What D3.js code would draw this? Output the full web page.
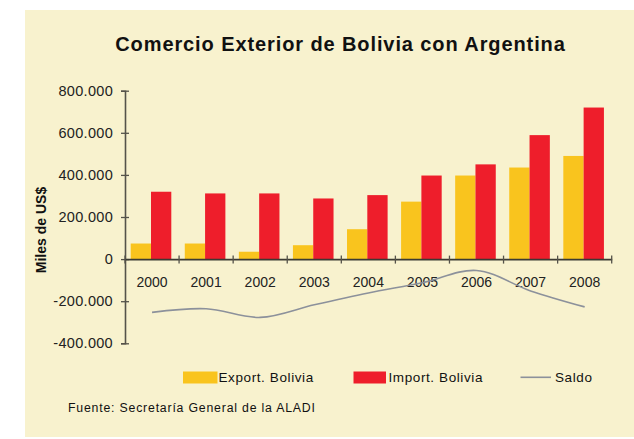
<!DOCTYPE html>
<html><head><meta charset="utf-8">
<script src="https://cdn.jsdelivr.net/npm/d3@7"></script>
<style>body{margin:0;background:#fff}svg{display:block}text{font-family:"Liberation Sans",Arial,sans-serif}</style>
</head><body><svg id="c" width="634" height="439"></svg>
<script>
const years = ["2000","2001","2002","2003","2004","2005","2006","2007","2008"];
const exportBolivia = [74000, 74000, 35000, 66000, 142000, 273000, 397000, 435000, 490000];
const importBolivia = [320000, 312000, 312000, 288000, 304000, 397000, 450000, 589000, 720000];
const saldo = [-253000, -236000, -277000, -217000, -161000, -112000, -54000, -151000, -227000];
const yTicks = [-400000, -200000, 0, 200000, 400000, 600000, 800000];
const seriesNames = ["Export. Bolivia", "Import. Bolivia", "Saldo"];
const colors = {exp: "#F9C41E", imp: "#EE1E2B", saldo: "#8C919B"};

const svg = d3.select("#c");
svg.append("rect").attr("x",25).attr("y",10).attr("width",609).attr("height",427).attr("fill","#F8F2CE");

svg.append("text").attr("x",340.5).attr("y",51).attr("text-anchor","middle")
  .attr("font-size",20).attr("font-weight","bold").attr("letter-spacing",0.9).attr("fill","#111").text("Comercio Exterior de Bolivia con Argentina");

const x = d3.scaleBand().domain(years).range([125, 611.7]).padding(0);
const xs = d3.scaleBand().domain(["exp","imp"]).range([5.7, 46.3]).padding(0);
const y = d3.scaleLinear().domain([-400000, 800000]).range([343.3, 90.7]);

const loc = d3.formatLocale({decimal:",", thousands:".", grouping:[3], currency:["$",""], minus:"-"});
const fmt = loc.format(",");

const g = svg.append("g");
g.selectAll(".be").data(years).join("rect")
  .attr("x", d => x(d) + xs("exp")).attr("width", xs.bandwidth())
  .attr("y", (d,i) => y(exportBolivia[i])).attr("height", (d,i) => y(0) - y(exportBolivia[i]))
  .attr("fill", colors.exp);
g.selectAll(".bi").data(years).join("rect")
  .attr("x", d => x(d) + xs("imp")).attr("width", xs.bandwidth())
  .attr("y", (d,i) => y(importBolivia[i])).attr("height", (d,i) => y(0) - y(importBolivia[i]))
  .attr("fill", colors.imp);

// y axis
const ya = svg.append("g").attr("transform","translate(125,0)")
  .call(d3.axisLeft(y).tickValues(yTicks).tickFormat(fmt).tickSize(4).tickPadding(8));
ya.select(".domain").attr("stroke","#55534a").attr("stroke-width",1.6);
ya.selectAll(".tick line").attr("stroke","#55534a").attr("stroke-width",1.3).attr("x1",4).attr("x2",-4);
ya.selectAll(".tick text").attr("font-size",14.5).attr("letter-spacing",0.3).attr("fill","#222").attr("font-family","Liberation Sans, Arial, sans-serif");

// x axis at zero
const xa = svg.append("g").attr("transform",`translate(0,${y(0)})`)
  .call(d3.axisBottom(x).tickSize(0).tickPadding(18));
xa.select(".domain").attr("stroke","#3b3a33").attr("stroke-width",1.8);
xa.selectAll(".tick text").attr("font-size",14).attr("fill","#222").attr("font-family","Liberation Sans, Arial, sans-serif");
const bounds = years.map(d => x(d)).concat([x.range()[1]]);
xa.selectAll(".xt").data(bounds).join("line")
  .attr("x1", d => d).attr("x2", d => d).attr("y1",-3.5).attr("y2",4.5)
  .attr("stroke","#55534a").attr("stroke-width",1.3);

// saldo line
const line = d3.line().x((d,i) => x(years[i]) + x.bandwidth()/2).y(d => y(d)).curve(d3.curveCatmullRom.alpha(0.5));
svg.append("path").datum(saldo).attr("d", line).attr("fill","none").attr("stroke",colors.saldo).attr("stroke-width",1.6);

// y title
svg.append("text").attr("transform","translate(45.5,230) rotate(-90)").attr("text-anchor","middle")
  .attr("font-size",14).attr("font-weight","bold").attr("fill","#111").text("Miles de US$");

// legend
const lg = svg.append("g");
lg.append("rect").attr("x",183).attr("y",371.5).attr("width",34.5).attr("height",12).attr("fill",colors.exp);
lg.append("text").attr("x",218.5).attr("y",381.5).attr("font-size",13.5).attr("letter-spacing",0.6).attr("fill","#111").text(seriesNames[0]);
lg.append("rect").attr("x",353.5).attr("y",371.5).attr("width",32.5).attr("height",12).attr("fill",colors.imp);
lg.append("text").attr("x",388.5).attr("y",381.5).attr("font-size",13.5).attr("letter-spacing",0.6).attr("fill","#111").text(seriesNames[1]);
lg.append("line").attr("x1",520.5).attr("x2",551).attr("y1",377.3).attr("y2",377.3).attr("stroke",colors.saldo).attr("stroke-width",1.6);
lg.append("text").attr("x",555).attr("y",381.5).attr("font-size",13.5).attr("letter-spacing",0.6).attr("fill","#111").text(seriesNames[2]);

svg.append("text").attr("x",68).attr("y",411.5).attr("font-size",12.3).attr("letter-spacing",0.8).attr("fill","#111").text("Fuente: Secretaría General de la ALADI");
</script></body></html>
